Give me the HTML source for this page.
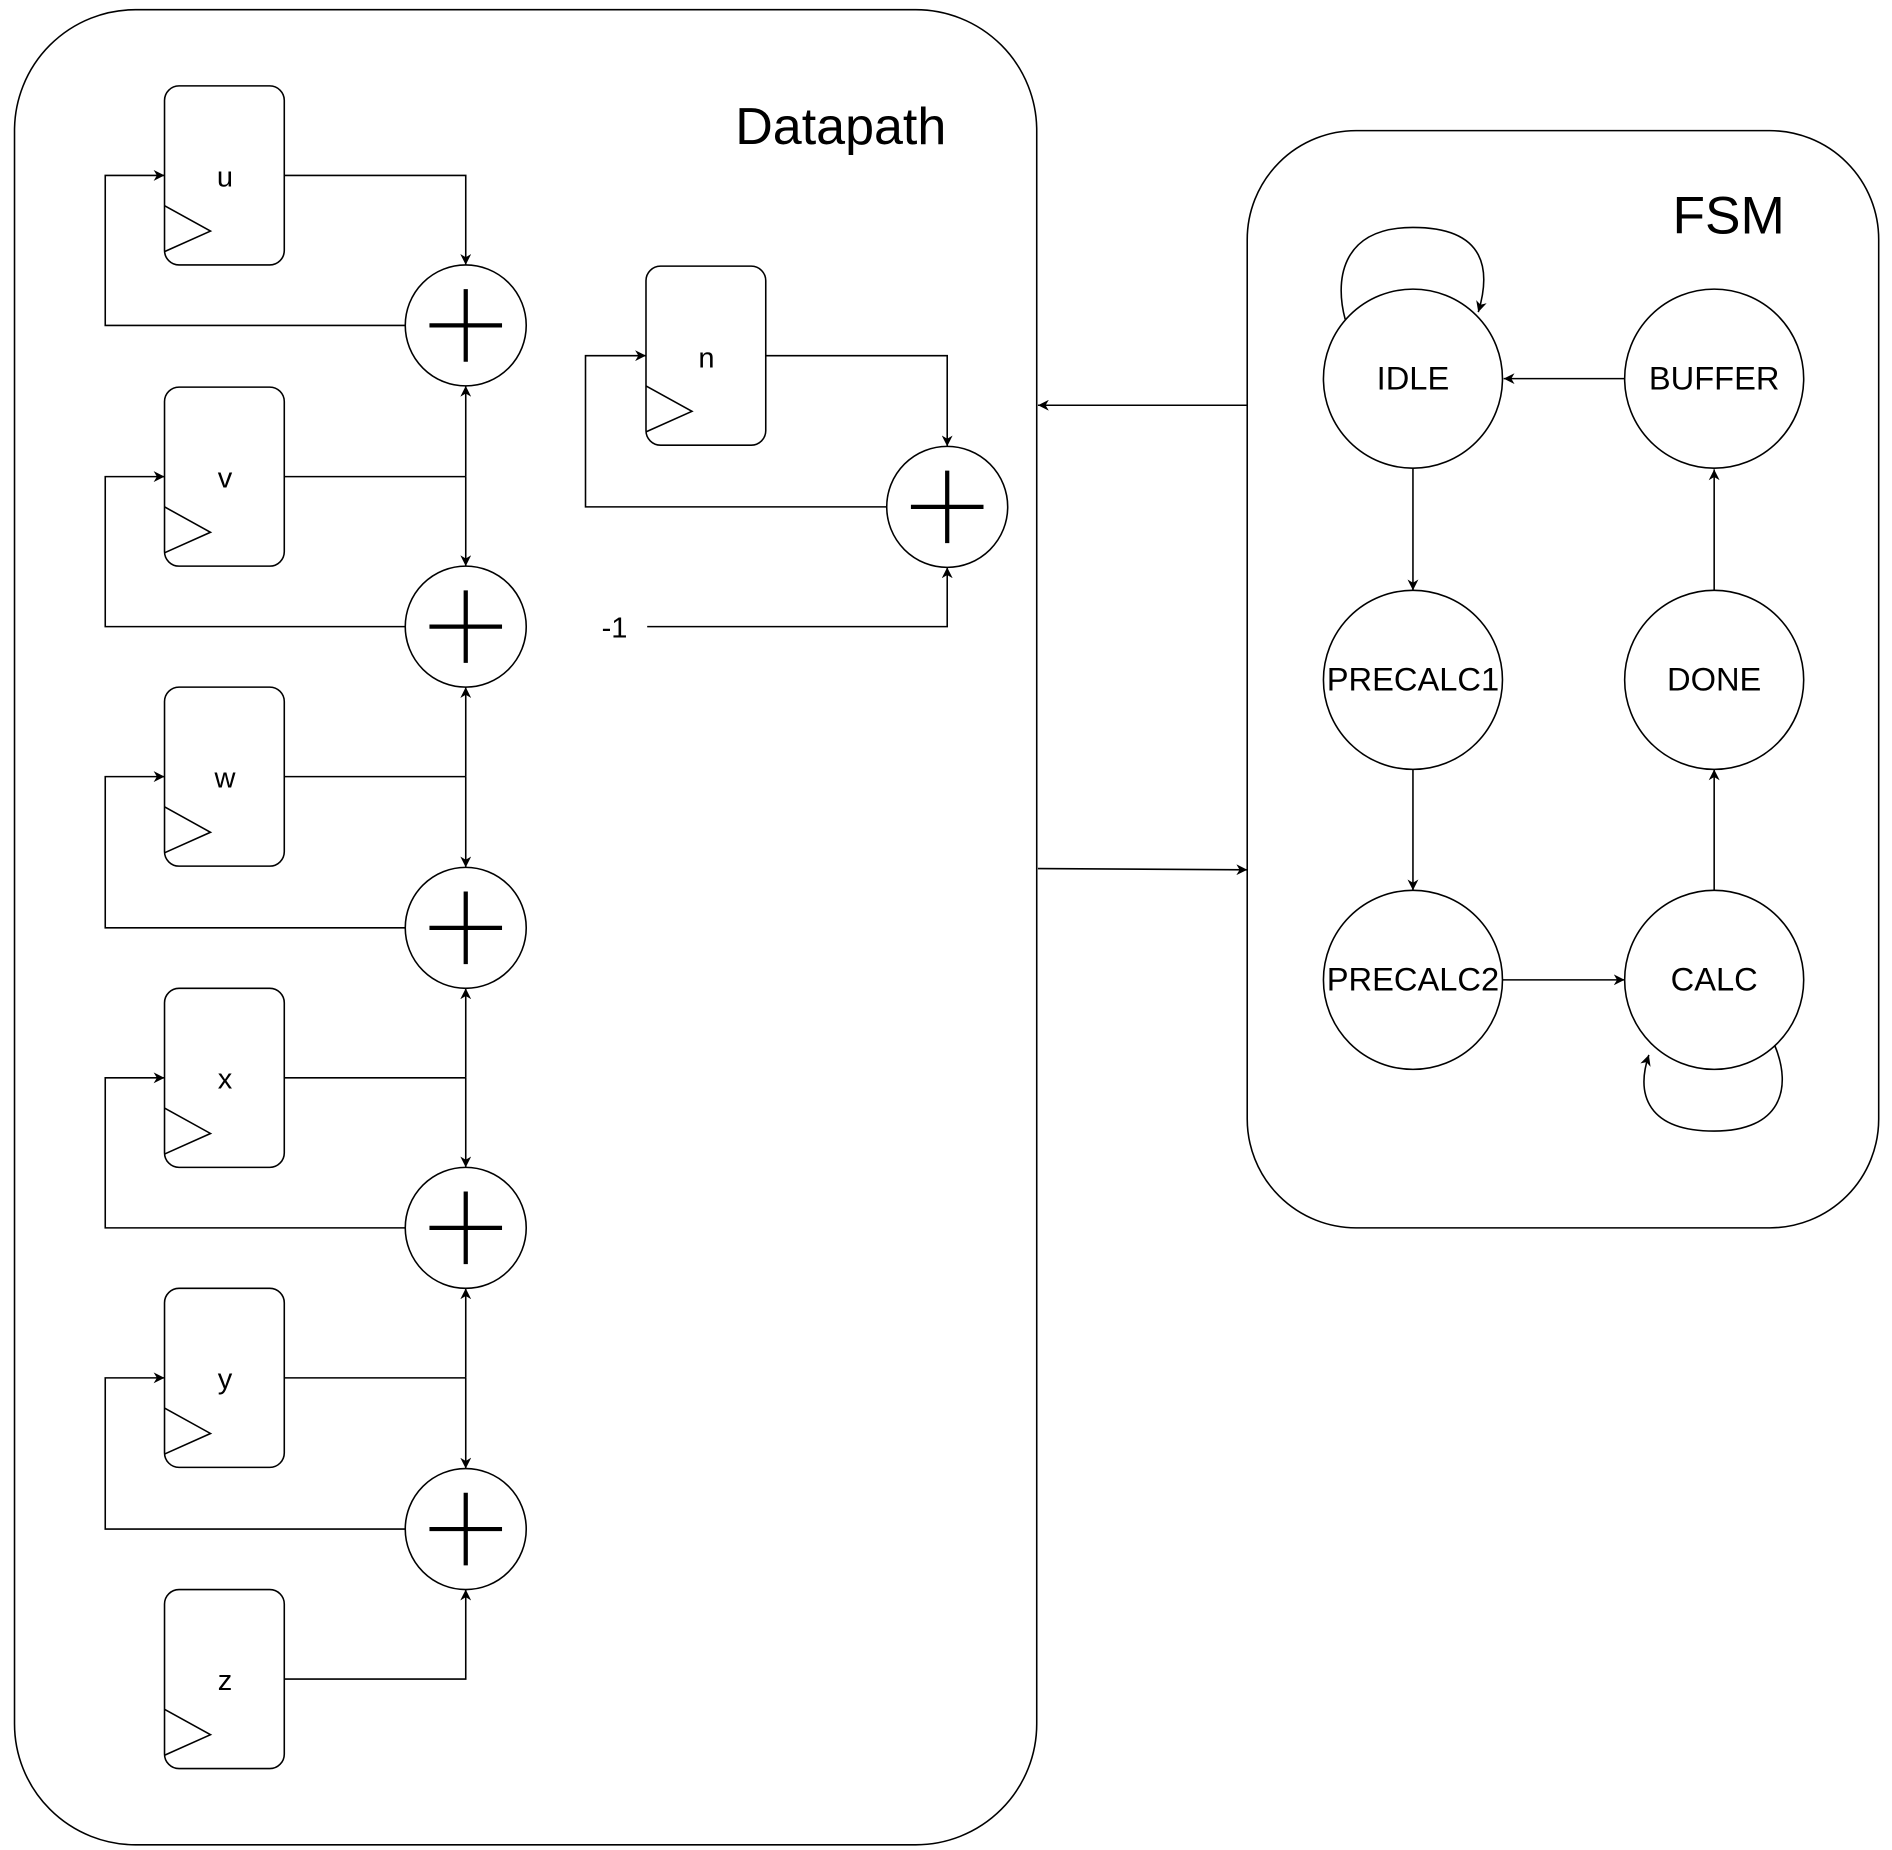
<!DOCTYPE html>
<html><head><meta charset="utf-8"><style>
html,body{margin:0;padding:0;background:#fff;}
svg{display:block;}
text{font-family:"Liberation Sans",Arial,sans-serif;fill:#000;}
</style></head><body>
<svg width="1892" height="1850" viewBox="0 0 1564 1529.3" preserveAspectRatio="none" xmlns="http://www.w3.org/2000/svg">
<defs>
<marker id="a" viewBox="0 0 10 10" refX="10" refY="5" markerWidth="9" markerHeight="9" markerUnits="userSpaceOnUse" orient="auto">
<path d="M0,0 L10,5 L0,10 L3,5 Z" fill="#000"/>
</marker>
</defs>
<g fill="none" stroke="#000" stroke-width="1.3">
<rect x="12" y="8" width="845" height="1517" rx="100"/>
<rect x="1031" y="108" width="522" height="907" rx="90"/>
</g>
<text x="695" y="119" font-size="43" text-anchor="middle">Datapath</text>
<text x="1429" y="193" font-size="44" text-anchor="middle">FSM</text>

<g fill="#fff" stroke="#000" stroke-width="1.3">
<rect x="136" y="71" width="99" height="148" rx="12"/>
<rect x="136" y="320" width="99" height="148" rx="12"/>
<rect x="136" y="568" width="99" height="148" rx="12"/>
<rect x="136" y="817" width="99" height="148" rx="12"/>
<rect x="136" y="1065" width="99" height="148" rx="12"/>
<rect x="136" y="1314" width="99" height="148" rx="12"/>
<rect x="534" y="220" width="99" height="148" rx="12"/>
</g>
<g fill="none" stroke="#000" stroke-width="1.3">
<polyline points="136,170 174,191 136,208"/>
<polyline points="136,419 174,440 136,457"/>
<polyline points="136,667 174,688 136,705"/>
<polyline points="136,916 174,937 136,954"/>
<polyline points="136,1164 174,1185 136,1202"/>
<polyline points="136,1413 174,1434 136,1451"/>
<polyline points="534,319 572,340 534,357"/>
</g>
<g font-size="24" text-anchor="middle">
<text x="186" y="154">u</text>
<text x="186" y="403">v</text>
<text x="186" y="651">w</text>
<text x="186" y="900">x</text>
<text x="186" y="1148">y</text>
<text x="186" y="1397">z</text>
<text x="584" y="304">n</text>
<text x="508" y="527">-1</text>
</g>

<g fill="none" stroke="#000" stroke-width="1.3">
<circle cx="385" cy="269" r="50"/>
<circle cx="385" cy="518" r="50"/>
<circle cx="385" cy="767" r="50"/>
<circle cx="385" cy="1015" r="50"/>
<circle cx="385" cy="1264" r="50"/>
<circle cx="783" cy="419" r="50"/>
</g>
<g stroke="#000" stroke-width="3.5">
<path d="M355,269h60M385,239v60"/>
<path d="M355,518h60M385,488v60"/>
<path d="M355,767h60M385,737v60"/>
<path d="M355,1015h60M385,985v60"/>
<path d="M355,1264h60M385,1234v60"/>
<path d="M753,419h60M783,389v60"/>
</g>

<g fill="none" stroke="#000" stroke-width="1.3">
<polyline points="235,145 385,145 385,219" marker-end="url(#a)"/>
<polyline points="335,269 87,269 87,145 136,145" marker-end="url(#a)"/>
<polyline points="235,394 385,394"/>
<line x1="385" y1="394" x2="385" y2="319" marker-end="url(#a)"/>
<line x1="385" y1="394" x2="385" y2="468" marker-end="url(#a)"/>
<polyline points="335,518 87,518 87,394 136,394" marker-end="url(#a)"/>
<polyline points="235,642 385,642"/>
<line x1="385" y1="642" x2="385" y2="568" marker-end="url(#a)"/>
<line x1="385" y1="642" x2="385" y2="717" marker-end="url(#a)"/>
<polyline points="335,767 87,767 87,642 136,642" marker-end="url(#a)"/>
<polyline points="235,891 385,891"/>
<line x1="385" y1="891" x2="385" y2="817" marker-end="url(#a)"/>
<line x1="385" y1="891" x2="385" y2="965" marker-end="url(#a)"/>
<polyline points="335,1015 87,1015 87,891 136,891" marker-end="url(#a)"/>
<polyline points="235,1139 385,1139"/>
<line x1="385" y1="1139" x2="385" y2="1065" marker-end="url(#a)"/>
<line x1="385" y1="1139" x2="385" y2="1214" marker-end="url(#a)"/>
<polyline points="335,1264 87,1264 87,1139 136,1139" marker-end="url(#a)"/>
<polyline points="235,1388 385,1388 385,1314" marker-end="url(#a)"/>
<polyline points="633,294 783,294 783,369" marker-end="url(#a)"/>
<polyline points="733,419 484,419 484,294 534,294" marker-end="url(#a)"/>
<polyline points="535,518 783,518 783,469" marker-end="url(#a)"/>
<line x1="1031" y1="335" x2="858" y2="335" marker-end="url(#a)"/>
<line x1="858" y1="718" x2="1031" y2="719" marker-end="url(#a)"/>
</g>

<g fill="none" stroke="#000" stroke-width="1.3">
<circle cx="1168" cy="313" r="74"/>
<circle cx="1417" cy="313" r="74"/>
<circle cx="1168" cy="562" r="74"/>
<circle cx="1417" cy="562" r="74"/>
<circle cx="1168" cy="810" r="74"/>
<circle cx="1417" cy="810" r="74"/>
<line x1="1168" y1="387" x2="1168" y2="488" marker-end="url(#a)"/>
<line x1="1168" y1="636" x2="1168" y2="736" marker-end="url(#a)"/>
<line x1="1242" y1="810" x2="1343" y2="810" marker-end="url(#a)"/>
<line x1="1417" y1="736" x2="1417" y2="636" marker-end="url(#a)"/>
<line x1="1417" y1="488" x2="1417" y2="388" marker-end="url(#a)"/>
<line x1="1343" y1="313" x2="1243" y2="313" marker-end="url(#a)"/>
<path d="M1112,264 C1104,235 1106,188 1168,188 C1230,188 1232,225 1222,258" marker-end="url(#a)"/>
<path d="M1467,864 C1482,900 1472,935 1417,935 C1362,935 1352,905 1363,872" marker-end="url(#a)"/>
</g>
<g font-size="27" text-anchor="middle">
<text x="1168" y="322">IDLE</text>
<text x="1417" y="322">BUFFER</text>
<text x="1168" y="571">PRECALC1</text>
<text x="1417" y="571">DONE</text>
<text x="1168" y="819">PRECALC2</text>
<text x="1417" y="819">CALC</text>
</g>
</svg>
</body></html>
